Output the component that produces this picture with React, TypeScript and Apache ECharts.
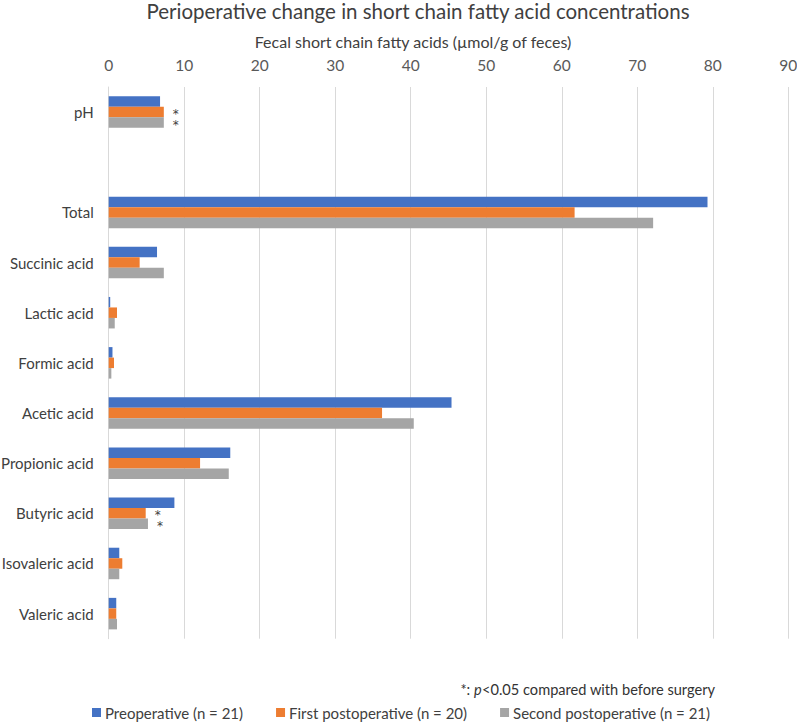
import React, { useEffect, useRef } from "react";
import * as echarts from "echarts";

const categories = [
  "pH",
  "",
  "Total",
  "Succinic acid",
  "Lactic acid",
  "Formic acid",
  "Acetic acid",
  "Propionic acid",
  "Butyric acid",
  "Isovaleric acid",
  "Valeric acid",
];

const preoperative = [6.8, null, 79.3, 6.4, 0.2, 0.5, 45.4, 16.1, 8.7, 1.4, 1.0];
const firstPostoperative = [7.3, null, 61.7, 4.1, 1.1, 0.7, 36.2, 12.1, 4.9, 1.8, 1.0];
const secondPostoperative = [7.3, null, 72.1, 7.3, 0.8, 0.35, 40.4, 15.9, 5.2, 1.4, 1.1];

const firstStars = ["*", "", "", "", "", "", "", "", "*", "", ""];
const secondStars = ["*", "", "", "", "", "", "", "", "*", "", ""];

const xTicks = [0, 10, 20, 30, 40, 50, 60, 70, 80, 90];

const seriesNames = [
  "Preoperative (n = 21)",
  "First postoperative (n = 20)",
  "Second postoperative (n = 21)",
];
const colors = ["#4472C4", "#ED7D31", "#A5A5A5"];

const FONT = "Lato";

export default function App() {
  const ref = useRef<HTMLDivElement>(null);

  useEffect(() => {
    document.body.style.margin = "0";
    if (!ref.current) return;
    const chart = echarts.init(ref.current, null, { renderer: "svg" });

    const starLabel = (stars: string[]) => ({
      show: true,
      position: "right" as const,
      distance: 9,
      offset: [0, 2],
      color: "#404040",
      fontSize: 12,
      lineHeight: 9,
      fontFamily: "DejaVu Sans",
      formatter: (p: any) => stars[p.dataIndex] || "",
    });

    const mk = (name: string, data: (number | null)[], color: string, stars?: string[]) => ({
      name,
      type: "bar" as const,
      data,
      barWidth: 10.5,
      barGap: "0%",
      itemStyle: { color },
      label: stars ? starLabel(stars) : { show: false },
      emphasis: { disabled: true },
    });

    chart.setOption({
      animation: false,
      textStyle: { fontFamily: FONT },
      title: [
        {
          text: "Perioperative change in short chain fatty acid concentrations",
          left: 418,
          top: 0,
          padding: 0,
          textAlign: "center",
          textStyle: { fontSize: 20.5, fontWeight: "normal", color: "#404040", fontFamily: FONT },
        },
        {
          text: "Fecal short chain fatty acids (µmol/g of feces)",
          left: 413,
          top: 33,
          padding: 0,
          textAlign: "center",
          textStyle: { fontSize: 16, fontWeight: "normal", color: "#404040", fontFamily: FONT },
        },
        {
          text: "{a|*: }{i|p}{a|<0.05 compared with before surgery}",
          left: 715,
          top: 682,
          padding: 0,
          textAlign: "right",
          textStyle: {
            fontWeight: "normal",
            rich: {
              a: { fontSize: 14.6, color: "#333333", fontWeight: "normal", fontFamily: FONT },
              i: { fontSize: 14.6, color: "#333333", fontWeight: "normal", fontStyle: "italic", fontFamily: FONT },
            },
          },
        },
      ],
      legend: {
        data: seriesNames,
        left: 92,
        top: 705,
        padding: 0,
        itemWidth: 9,
        itemHeight: 9,
        itemGap: 33,
        icon: "rect",
        textStyle: { fontSize: 15, color: "#404040", fontFamily: FONT, padding: [0, 0, 0, -1] },
      },
      grid: { left: 108.7, right: 8.7, top: 87, bottom: 83.3, outerBoundsMode: "none" },
      xAxis: {
        type: "value",
        position: "top",
        min: 0,
        max: 90,
        interval: 10,
        axisLine: { show: false },
        axisTick: { show: false },
        axisLabel: {
          fontSize: 15.5,
          color: "#595959",
          margin: 14,
          fontFamily: FONT,
          formatter: (v: number) => (xTicks.includes(v) ? String(v) : ""),
        },
        splitLine: { show: true, lineStyle: { color: "#D9D9D9", width: 1 } },
      },
      yAxis: {
        type: "category",
        data: categories,
        inverse: true,
        axisLine: { show: true, lineStyle: { color: "#D9D9D9" } },
        axisTick: { show: false },
        axisLabel: { fontSize: 15, color: "#404040", margin: 15, fontFamily: FONT },
        splitLine: { show: false },
      },
      series: [
        mk(seriesNames[0], preoperative, colors[0]),
        mk(seriesNames[1], firstPostoperative, colors[1], firstStars),
        mk(seriesNames[2], secondPostoperative, colors[2], secondStars),
      ],
    });

    return () => chart.dispose();
  }, []);

  return <div ref={ref} style={{ width: 797, height: 722 }} />;
}
